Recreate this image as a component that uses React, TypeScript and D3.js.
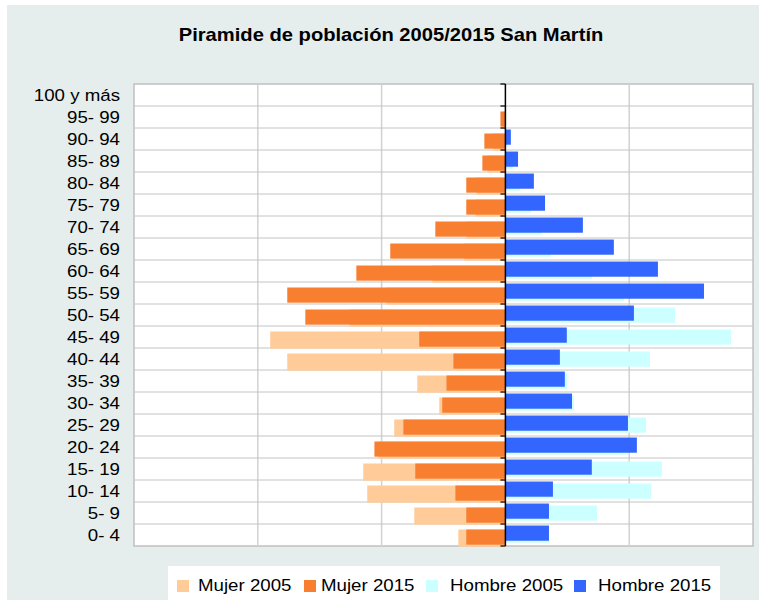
import React, { useEffect, useRef } from 'react';
import * as d3 from 'd3';

// age groups, top to bottom
const ageGroups = [
    '100 y más', '95- 99', '90- 94', '85- 89', '80- 84', '75- 79', '70- 74',
    '65- 69', '60- 64', '55- 59', '50- 54', '45- 49', '40- 44', '35- 39',
    '30- 34', '25- 29', '20- 24', '15- 19', '10- 14', '5- 9', '0- 4'
];

// population per group
const mujer2005 = [0, 8, 48, 73, 117, 121, 158, 166, 295, 481, 630, 950, 881, 356, 267, 449, 513, 574, 558, 368, 190];
const mujer2015 = [0, 20, 85, 93, 158, 158, 283, 465, 602, 881, 808, 348, 210, 238, 255, 412, 529, 364, 202, 158, 158];
const hombre2005 = [0, 4, 12, 30, 59, 103, 147, 184, 350, 479, 685, 911, 584, 249, 277, 568, 495, 632, 588, 370, 176];
const hombre2015 = [0, 0, 22, 51, 115, 160, 313, 438, 616, 802, 519, 248, 220, 240, 269, 495, 531, 349, 192, 176, 176];

const seriesNames = ['Mujer 2005', 'Mujer 2015', 'Hombre 2005', 'Hombre 2015'];
const seriesColors = ['#ffcc99', '#f77f2f', '#ccffff', '#3366ff'];
const xTicks = [-1500, -1000, -500, 0, 500, 1000];

const FONT = "'Liberation Sans', Arial, sans-serif";
const STRETCH = 1.1;

const App = () => {
    const svgRef = useRef<SVGSVGElement>(null);

    useEffect(() => {
        const svg = d3.select(svgRef.current);
        svg.selectAll('*').remove();

        const plot = { left: 134, right: 753, top: 84, bottom: 546 };

        const x = d3.scaleLinear()
            .domain([xTicks[0], xTicks[xTicks.length - 1]])
            .range([plot.left, plot.right]);

        const y = d3.scaleBand<string>()
            .domain(ageGroups)
            .range([plot.top, plot.bottom]);

        // background panel
        svg.append('rect')
            .attr('x', 7).attr('y', 5)
            .attr('width', 752).attr('height', 595)
            .attr('fill', '#e5eeec');

        // title
        svg.append('g')
            .attr('transform', `translate(391,41)`)
            .append('text')
            .attr('transform', `scale(1.12,1)`)
            .attr('text-anchor', 'middle')
            .attr('font-family', FONT)
            .attr('font-weight', 'bold')
            .attr('font-size', 18)
            .attr('fill', '#000')
            .text('Piramide de población 2005/2015 San Martín');

        // plot area
        svg.append('rect')
            .attr('x', plot.left).attr('y', plot.top)
            .attr('width', plot.right - plot.left)
            .attr('height', plot.bottom - plot.top)
            .attr('fill', '#fff')
            .attr('stroke', '#c0c0c0')
            .attr('stroke-width', 1.5);

        // vertical grid
        svg.append('g')
            .selectAll('line')
            .data(xTicks.slice(1, -1).filter(d => d !== 0))
            .enter().append('line')
            .attr('x1', d => x(d)).attr('x2', d => x(d))
            .attr('y1', plot.top).attr('y2', plot.bottom)
            .attr('stroke', '#d2d2d2')
            .attr('stroke-width', 1.5);

        // horizontal grid at the group boundaries
        const bounds = ageGroups.map(g => y(g) as number).concat([plot.bottom]);
        svg.append('g')
            .selectAll('line')
            .data(bounds.slice(1, -1))
            .enter().append('line')
            .attr('x1', plot.left).attr('x2', plot.right)
            .attr('y1', d => d).attr('y2', d => d)
            .attr('stroke', '#c4c4c4')
            .attr('stroke-width', 1);

        const bw = y.bandwidth();
        const barH = bw * 0.69;

        // women to the left, men to the right; 2005 drawn behind 2015
        const drawLeft = (values, color, off, h) => {
            svg.append('g').selectAll('rect')
                .data(values)
                .enter().append('rect')
                .attr('x', d => x(-d))
                .attr('y', (d, i) => (y(ageGroups[i]) as number) + off)
                .attr('width', d => x(0) - x(-d))
                .attr('height', h)
                .attr('fill', color);
        };
        const drawRight = (values, color, off, h) => {
            svg.append('g').selectAll('rect')
                .data(values)
                .enter().append('rect')
                .attr('x', x(0))
                .attr('y', (d, i) => (y(ageGroups[i]) as number) + off)
                .attr('width', d => x(d) - x(0))
                .attr('height', h)
                .attr('fill', color);
        };

        drawLeft(mujer2005, seriesColors[0], bw * 0.25, barH + 2);
        drawLeft(mujer2015, seriesColors[1], bw * 0.25, barH);
        drawRight(hombre2005, seriesColors[2], bw * 0.16, barH);
        drawRight(hombre2015, seriesColors[3], bw * 0.07, barH);

        // central axis with ticks on the boundaries
        const axis = svg.append('g');
        axis.append('line')
            .attr('x1', x(0)).attr('x2', x(0))
            .attr('y1', plot.top).attr('y2', plot.bottom)
            .attr('stroke', '#000')
            .attr('stroke-width', 1.5);
        axis.selectAll('line.tick')
            .data(bounds)
            .enter().append('line')
            .attr('class', 'tick')
            .attr('x1', x(0) - 5).attr('x2', x(0))
            .attr('y1', d => d).attr('y2', d => d)
            .attr('stroke', '#000')
            .attr('stroke-width', 1.2);

        // category labels
        svg.append('g')
            .selectAll('g')
            .data(ageGroups)
            .enter().append('g')
            .attr('transform', d => `translate(120,${(y(d) as number) + bw / 2})`)
            .append('text')
            .attr('transform', `scale(${STRETCH},1)`)
            .attr('text-anchor', 'end')
            .attr('dy', '0.36em')
            .attr('font-family', FONT)
            .attr('font-size', 17)
            .attr('fill', '#000')
            .text(d => d);

        // legend
        svg.append('rect')
            .attr('x', 168).attr('y', 566)
            .attr('width', 552).attr('height', 40)
            .attr('fill', '#fff');

        const swatchX = [177, 304, 426, 574];
        const labelX = [198, 321, 450, 598];
        const legend = svg.append('g')
            .selectAll('g')
            .data(seriesNames)
            .enter().append('g');

        legend.append('rect')
            .attr('x', (d, i) => swatchX[i])
            .attr('y', 580)
            .attr('width', 12)
            .attr('height', 12)
            .attr('fill', (d, i) => seriesColors[i]);

        legend.append('g')
            .attr('transform', (d, i) => `translate(${labelX[i]},591)`)
            .append('text')
            .attr('transform', `scale(${STRETCH},1)`)
            .attr('font-family', FONT)
            .attr('font-size', 17)
            .attr('fill', '#000')
            .text(d => d);
    }, []);

    return (
        <svg
            ref={svgRef}
            width={759}
            height={600}
            style={{ position: 'absolute', left: 0, top: 0, background: '#fff' }}
        />
    );
};

export default App;
